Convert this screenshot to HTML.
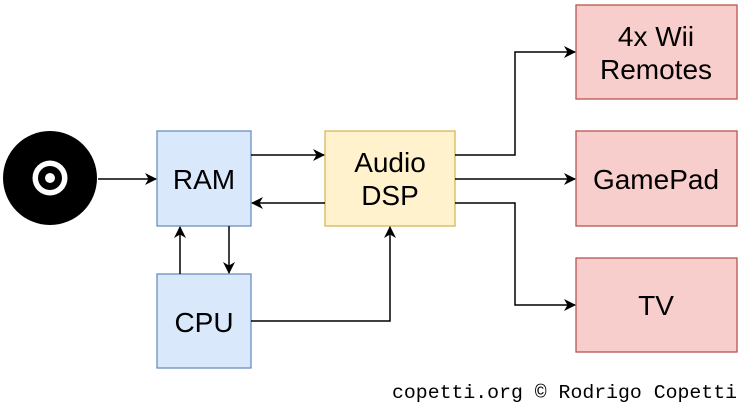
<!DOCTYPE html>
<html><head><style>body{margin:0;background:#fff}svg{display:block}</style></head><body>
<svg width="743" height="410" viewBox="0 0 743 410" xmlns="http://www.w3.org/2000/svg" font-family="Liberation Sans, sans-serif">
<defs><marker id="a" markerWidth="12" markerHeight="12" refX="11" refY="6" orient="auto" markerUnits="userSpaceOnUse"><path d="M0,0 L12,6 L0,12 L3.5,6 z" fill="#000"/></marker></defs>
<circle cx="50" cy="178" r="47" fill="#000"/>
<circle cx="50" cy="178" r="17.5" fill="#fff"/>
<circle cx="50" cy="178" r="12" fill="#000"/>
<circle cx="50" cy="178" r="5" fill="#fff"/>
<g stroke="#6c8ebf" fill="#dae8fc" stroke-width="1.3">
<rect x="157" y="131" width="94" height="95"/><rect x="157" y="274" width="94" height="94"/></g>
<rect x="325" y="131" width="130" height="95" fill="#fff2cc" stroke="#d6b656" stroke-width="1.3"/>
<g stroke="#b85450" fill="#f8cecc" stroke-width="1.3">
<rect x="576" y="5" width="161" height="94"/><rect x="576" y="131" width="161" height="95"/><rect x="576" y="258" width="161" height="94"/></g>
<g stroke="#000" stroke-width="1.5" fill="none" marker-end="url(#a)">
<path d="M98,179 H156"/><path d="M251,155 H324"/><path d="M325,203 H252"/>
<path d="M229,226 V273"/><path d="M180,274 V227"/>
<path d="M251,321 H390 V227"/>
<path d="M455,155 H515 V52 H575"/><path d="M455,179 H575"/><path d="M455,203 H515 V305 H575"/>
</g>
<g font-size="28" text-anchor="middle" fill="#000">
<text x="204" y="189">RAM</text><text x="204" y="332">CPU</text>
<text x="390" y="172">Audio</text><text x="390" y="205">DSP</text>
<text x="656" y="46">4x Wii</text><text x="656" y="79">Remotes</text>
<text x="656" y="189">GamePad</text><text x="656" y="315">TV</text>
</g>
<text x="737" y="398" text-anchor="end" font-family="Liberation Mono, monospace" font-size="19" textLength="345" lengthAdjust="spacingAndGlyphs">copetti.org © Rodrigo Copetti</text>
</svg>
</body></html>
